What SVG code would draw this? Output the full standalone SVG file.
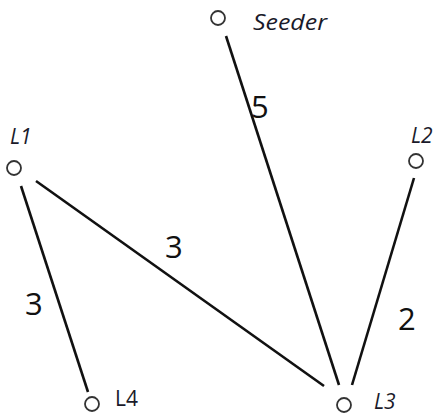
<svg xmlns="http://www.w3.org/2000/svg" width="436" height="416" viewBox="0 0 436 416">
<style>
.node circle{fill:#fff;stroke:#333;stroke-width:1.8}
.lbl{font-family:"Open Sans","Liberation Sans",sans-serif;font-size:21px;fill:#1a1a2a}
.it{font-style:italic}
.num{font-family:"Open Sans","Liberation Sans",sans-serif;font-size:31px;fill:#111}
#edges line{stroke:#111;stroke-width:2.6;stroke-linecap:butt}
</style>
<rect width="436" height="416" fill="#fff"/>
<g id="edges">
<line x1="226" y1="36" x2="339" y2="385"/>
<line x1="36" y1="181" x2="324" y2="386"/>
<line x1="21" y1="186" x2="88" y2="392"/>
<line x1="414" y1="178" x2="352" y2="385"/>
<text class="num" x="251" y="118">5</text>
<text class="num" x="165" y="258">3</text>
<text class="num" x="25" y="315">3</text>
<text class="num" x="398" y="330">2</text>
</g>
<g id="seeder" class="node"><circle cx="218" cy="18" r="7"/><text class="lbl it" x="253" y="30" textLength="74" lengthAdjust="spacingAndGlyphs">Seeder</text></g>
<g id="L1" class="node"><circle cx="14" cy="168" r="7"/><text class="lbl it" x="10" y="144">L1</text></g>
<g id="L2" class="node"><circle cx="416" cy="161" r="7"/><text class="lbl it" x="411" y="143">L2</text></g>
<g id="L4" class="node"><circle cx="92" cy="404" r="7"/><text class="lbl" x="115" y="406">L4</text></g>
<g id="L3" class="node"><circle cx="344" cy="405" r="7"/><text class="lbl it" x="374" y="409">L3</text></g>
</svg>
